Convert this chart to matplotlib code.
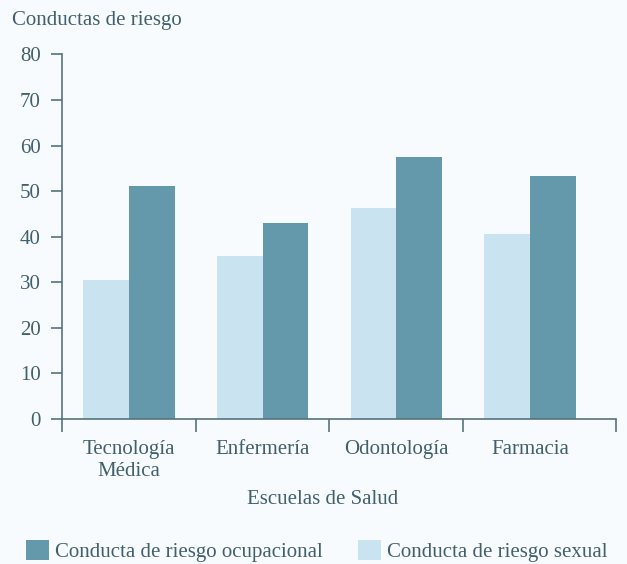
import matplotlib
matplotlib.use("Agg")
import matplotlib.pyplot as plt
import numpy as np
from matplotlib.patches import Patch

categories = ["Tecnología\nMédica", "Enfermería", "Odontología", "Farmacia"]
sexual = [30.6, 35.7, 46.4, 40.7]
ocupacional = [51.1, 43.1, 57.5, 53.3]
yticks = [0, 10, 20, 30, 40, 50, 60, 70, 80]

TEXT = "#41606b"
AXC = "#55737d"
DARK = "#6499ac"
LIGHT = "#c9e3f1"
BG = "#f7fbfd"

plt.rcParams['font.family'] = ['Liberation Serif', 'DejaVu Serif']
FS = 15

fig = plt.figure(figsize=(6.27, 5.64), dpi=100, facecolor=BG)
ax = fig.add_axes([0.0984, 0.2571, 0.9825 - 0.0984, 0.9034 - 0.2571])
ax.set_facecolor(BG)

x = np.arange(len(categories))
w = 0.343
ax.bar(x - w / 2, sexual, width=w, color=LIGHT, label="Conducta de riesgo sexual")
ax.bar(x + w / 2, ocupacional, width=w, color=DARK, label="Conducta de riesgo ocupacional")

left, right = -0.5, 3.64
ax.set_xlim(left, right)
ax.set_ylim(0, 80)

for s in ["top", "right"]:
    ax.spines[s].set_visible(False)
for s in ["left", "bottom"]:
    ax.spines[s].set_color(AXC)
    ax.spines[s].set_linewidth(1.2)

ax.set_yticks(yticks)
ax.set_yticklabels([str(v) for v in yticks])
ax.tick_params(axis="y", direction="out", length=8, width=1.2, color=AXC,
               labelcolor=TEXT, labelsize=FS, pad=7)

ax.set_xticks(x)
ax.set_xticklabels(categories, linespacing=1.2)
ax.tick_params(axis="x", which="major", length=0, labelcolor=TEXT, labelsize=FS, pad=15)
ax.set_xticks([left, 0.5, 1.5, 2.5, right], minor=True)
ax.tick_params(axis="x", which="minor", direction="out", length=9, width=1.2, color=AXC)

ax.set_xlabel("Escuelas de Salud", fontsize=FS, color=TEXT)
ax.xaxis.set_label_coords(0.47, -0.2200)
ax.xaxis.label.set_va("center")

fig.text(12 / 627, 1 - 24.5 / 564, "Conductas de riesgo", fontsize=FS, color=TEXT,
         ha="left", va="baseline")

handles = [Patch(facecolor=DARK, edgecolor="none"), Patch(facecolor=LIGHT, edgecolor="none")]
labels = ["Conducta de riesgo ocupacional", "Conducta de riesgo sexual"]
leg = fig.legend(handles, labels, ncol=2, loc="center left",
                 bbox_to_anchor=(26 / 627, 1 - 551 / 564), frameon=False,
                 fontsize=FS, handlelength=1.1, handleheight=1.1,
                 handletextpad=0.3, columnspacing=1.68, borderpad=0, borderaxespad=0)
for t in leg.get_texts():
    t.set_color(TEXT)

fig.savefig("out.png", dpi=100, facecolor=BG)
